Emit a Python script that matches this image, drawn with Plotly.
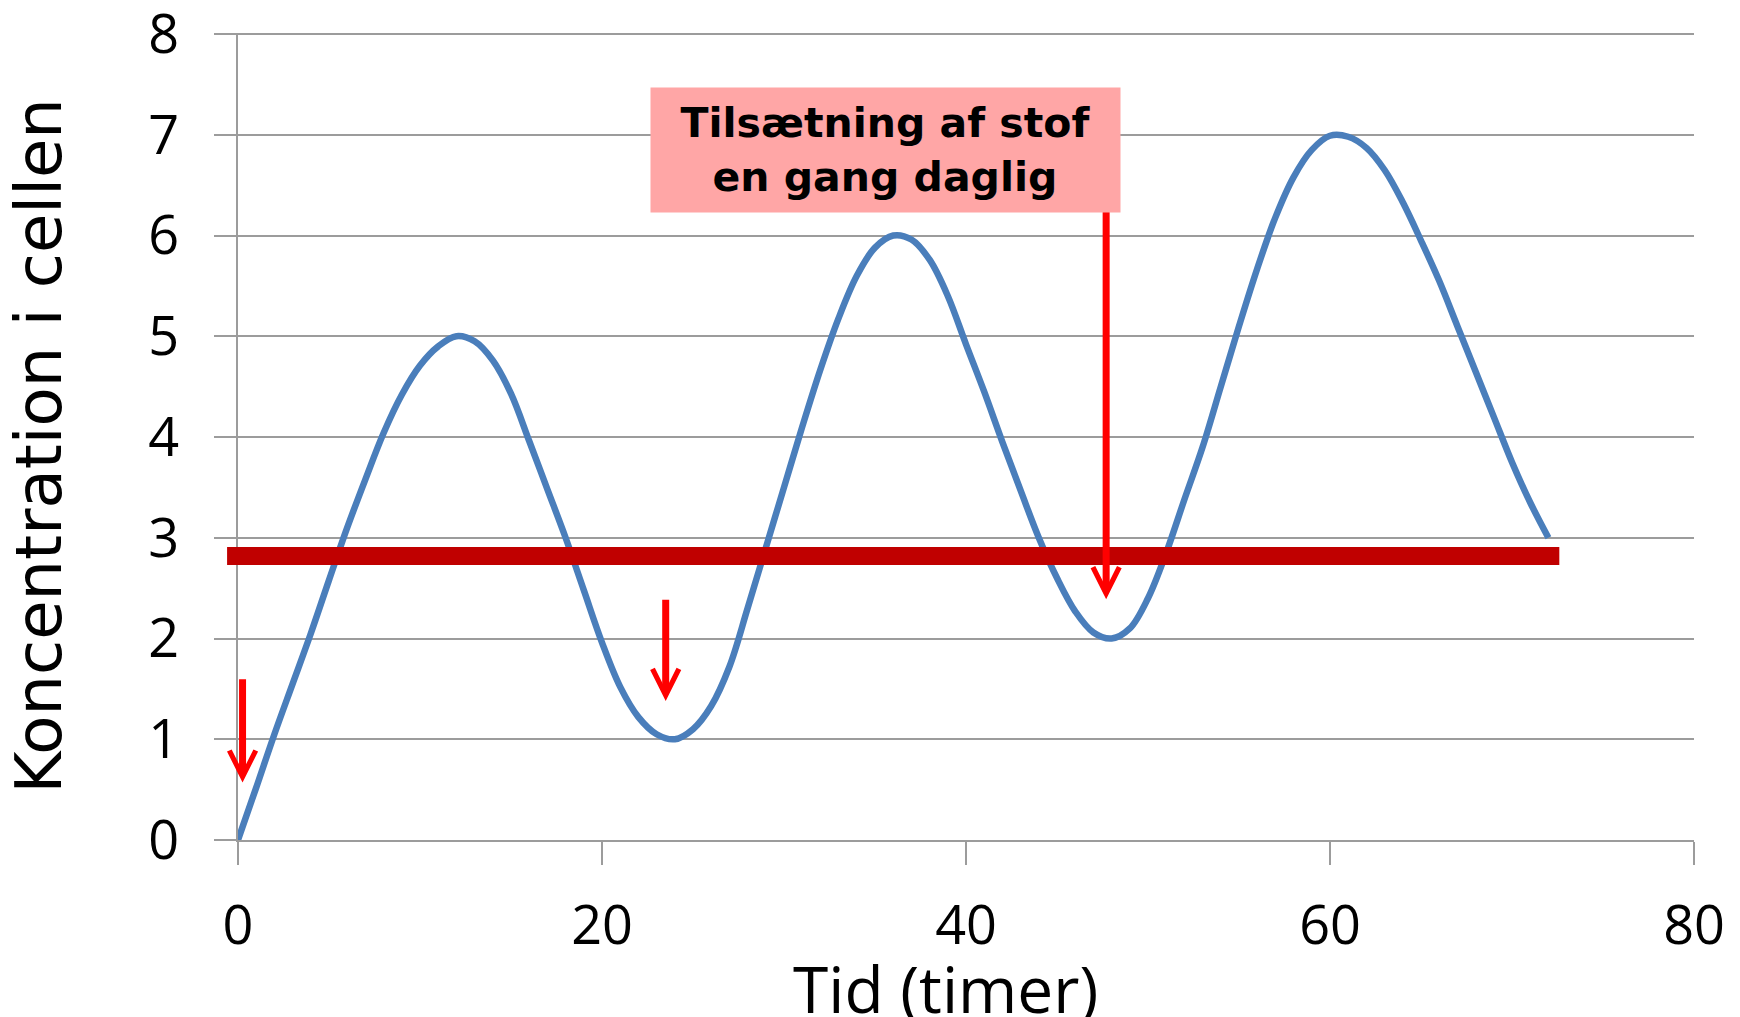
import plotly.graph_objects as go

# ---- data ----
time_h = list(range(0, 73))
conc = [0.0, 0.52, 1.05, 1.55, 2.05, 2.58, 3.1, 3.58, 4.04, 4.42, 4.71, 4.9, 5.0,
        4.95, 4.76, 4.43, 3.96, 3.48, 3.0, 2.48, 1.96, 1.52, 1.22, 1.05, 1.0,
        1.1, 1.33, 1.72, 2.3, 2.9, 3.5, 4.1, 4.67, 5.18, 5.6, 5.88, 6.0,
        5.96, 5.76, 5.4, 4.92, 4.45, 3.95, 3.47, 3.0, 2.6, 2.27, 2.06, 2.0,
        2.1, 2.4, 2.85, 3.38, 3.9, 4.5, 5.1, 5.67, 6.18, 6.58, 6.85, 6.99,
        6.98, 6.87, 6.65, 6.33, 5.95, 5.55, 5.1, 4.65, 4.2, 3.75, 3.35, 3.0]

threshold_level = 2.82
threshold_span = [-0.6, 72.6]

dose_x = [0.25, 23.5, 47.7]
dose_from = [1.61, 2.40, 6.3]
dose_to = [0.57, 1.38, 2.39]

label_x = 35.6
label_y = 6.86
label_text = "Tilsætning af stof<br>en gang daglig"

x_ticks = [0, 20, 40, 60, 80]
y_ticks = [0, 1, 2, 3, 4, 5, 6, 7, 8]
x_title = "Tid (timer)"
y_title = "Koncentration i cellen"

X_RANGE = [0, 80]
Y_RANGE = [0, 8.01]

GRID = "#9c9c9c"
TICK_FONT = dict(family="Open Sans", size=54, color="black")

fig = go.Figure()

fig.add_trace(go.Scatter(
    x=time_h, y=conc, mode="lines",
    line=dict(color="#4a7ebb", width=6.5, shape="spline", smoothing=1.0),
    hoverinfo="skip", showlegend=False,
))

# threshold bar (reaches slightly left of the y axis, so use paper x)
span = X_RANGE[1] - X_RANGE[0]
fig.add_shape(type="line", xref="paper", yref="y",
              x0=(threshold_span[0] - X_RANGE[0]) / span,
              x1=(threshold_span[1] - X_RANGE[0]) / span,
              y0=threshold_level, y1=threshold_level,
              line=dict(color="#c00000", width=18), layer="above")

annotations = []
for xv, y0, y1 in zip(dose_x, dose_from, dose_to):
    annotations.append(dict(
        x=xv, y=y1, ax=xv, ay=y0, xref="x", yref="y", axref="x", ayref="y",
        text="", showarrow=True, arrowhead=5, arrowsize=0.74, arrowwidth=7,
        arrowcolor="#ff0000", standoff=0,
    ))

annotations.append(dict(
    x=label_x, y=label_y, xref="x", yref="y", text="<b>" + label_text + "</b>",
    showarrow=False, bgcolor="#ffa6a6", width=469, height=124, borderpad=0,
    font=dict(family="DejaVu Sans", size=41, color="black"),
    xanchor="center", yanchor="middle", align="center", yshift=-1,
))

annotations.append(dict(
    x=0, y=0.5, xref="paper", yref="paper", text=y_title, textangle=-90,
    showarrow=False, xanchor="center", yanchor="middle", xshift=-200, yshift=-10,
    font=dict(family="DejaVu Sans", size=64, color="black"),
))

annotations.append(dict(
    x=0.4856, y=0, xref="paper", yref="paper", text=x_title,
    showarrow=False, xanchor="center", yanchor="middle", yshift=-148,
    font=dict(family="Open Sans", size=64, color="black"),
))

fig.update_layout(
    width=1740, height=1017,
    margin=dict(l=238, r=46, t=33, b=177, pad=0, autoexpand=False),
    paper_bgcolor="white", plot_bgcolor="white",
    annotations=annotations,
    showlegend=False,
)

fig.update_xaxes(
    range=X_RANGE, tickvals=x_ticks, ticktext=[str(v) for v in x_ticks],
    showgrid=False, zeroline=False, automargin=False,
    showline=True, linecolor=GRID, linewidth=2,
    ticks="outside", ticklen=23, tickwidth=2, tickcolor=GRID,
    tickfont=TICK_FONT, ticklabelstandoff=14, ticklabeloverflow="allow",
)
fig.update_yaxes(
    range=Y_RANGE, tickvals=y_ticks, ticktext=[str(v) for v in y_ticks],
    showgrid=True, gridcolor=GRID, gridwidth=2, zeroline=False, automargin=False,
    showline=True, linecolor=GRID, linewidth=2,
    ticks="outside", ticklen=22, tickwidth=2, tickcolor=GRID,
    tickfont=TICK_FONT, ticklabelstandoff=24, ticklabeloverflow="allow",
)

fig.write_html("out.html")
